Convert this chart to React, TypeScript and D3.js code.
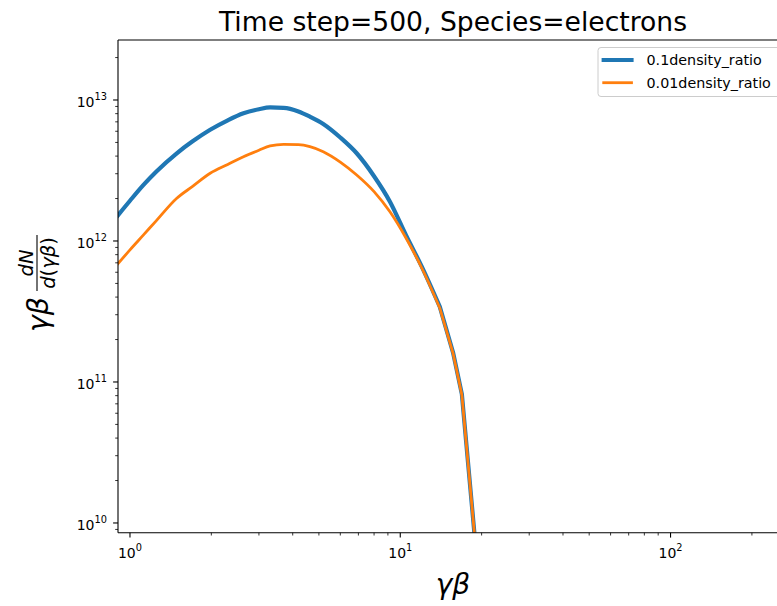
import React from "react";
import * as d3 from "d3";

const gammaBeta = [0.9, 1.0, 1.12, 1.25, 1.49, 1.7, 1.98, 2.3, 2.63, 3.0, 3.3, 3.7, 4.2, 4.63, 5.19, 6.0, 6.9, 8.0, 9.16, 10.5, 12.0, 14.0, 15.7, 16.9, 19.0];
const ratio01 = [1.51e12, 1.93e12, 2.49e12, 3.1e12, 4.19e12, 5.07e12, 6.15e12, 7.18e12, 8.05e12, 8.6e12, 8.85e12, 8.8e12, 8.3e12, 7.62e12, 6.76e12, 5.42e12, 4.19e12, 2.88e12, 1.9e12, 1.1e12, 6.6e11, 3.42e11, 1.6e11, 8.2e10, 6.8e9];
const ratio001 = [6.85e11, 8.65e11, 1.1e12, 1.39e12, 2.01e12, 2.43e12, 3.02e12, 3.49e12, 3.96e12, 4.4e12, 4.72e12, 4.84e12, 4.82e12, 4.67e12, 4.3e12, 3.63e12, 2.94e12, 2.24e12, 1.61e12, 1.05e12, 6.46e11, 3.35e11, 1.58e11, 8.1e10, 6.8e9];
const seriesNames = ["0.1density_ratio", "0.01density_ratio"];
const seriesColors = ["#1f77b4", "#ff7f0e"];
const seriesWidths = [4.2, 2.8];
const xMajorExps = [0, 1, 2];
const yMajorExps = [10, 11, 12, 13];
const title = "Time step=500, Species=electrons";
const smoothUntil = 14.0;

const W = 777, H = 606;
const L = 118, R = 788, T = 40, B = 532.7;
const FONT = "'DejaVu Sans', sans-serif";

export default function App() {
  const x = d3.scaleLog().domain([0.903, 272]).range([L, R]);
  const y = d3.scaleLog().domain([Math.pow(10, 9.931), Math.pow(10, 13.4255)]).range([B, T]);

  const xMinor: number[] = [];
  for (let e = -1; e <= 3; e++) for (let m = 2; m <= 9; m++) {
    const v = m * Math.pow(10, e);
    if (v >= x.domain()[0] && v <= x.domain()[1]) xMinor.push(v);
  }
  const yMinor: number[] = [];
  for (let e = 9; e <= 13; e++) for (let m = 2; m <= 9; m++) {
    const v = m * Math.pow(10, e);
    if (v >= y.domain()[0] && v <= y.domain()[1]) yMinor.push(v);
  }

  const smooth = d3.line<[number, number]>().x(d => x(d[0])).y(d => y(d[1])).curve(d3.curveMonotoneX);
  const straight = d3.line<[number, number]>().x(d => x(d[0])).y(d => y(d[1]));
  const series = [ratio01, ratio001].map(vals => gammaBeta.map((g, i) => [g, vals[i]] as [number, number]));

  const pathFor = (s: [number, number][]) => {
    const head = s.filter(d => d[0] <= smoothUntil);
    const tail = s.filter(d => d[0] >= smoothUntil);
    const a = smooth(head) || "";
    const b = (straight(tail) || "").replace(/^M/, "L");
    return a + b;
  };

  return (
    <svg width={W} height={H} style={{ position: "absolute", left: 0, top: 0, background: "#fff" }} fontFamily={FONT}>
      <defs>
        <clipPath id="plotclip"><rect x={L} y={T} width={R - L} height={B - T} /></clipPath>
      </defs>
      <rect x={0} y={0} width={W} height={H} fill="#fff" />
      <g clipPath="url(#plotclip)">
        {series.map((s, i) => (
          <path key={i} d={pathFor(s)} fill="none" stroke={seriesColors[i]} strokeWidth={seriesWidths[i]} strokeLinejoin="round" strokeLinecap="square" />
        ))}
      </g>
      {/* spines */}
      <line x1={L} x2={L} y1={T} y2={B} stroke="#000" strokeWidth={1.1} />
      <line x1={L} x2={R} y1={B} y2={B} stroke="#000" strokeWidth={1.1} />
      <line x1={L} x2={R} y1={T} y2={T} stroke="#000" strokeWidth={1.1} />
      {/* x ticks */}
      {xMinor.map((v, i) => (
        <line key={"xm" + i} x1={x(v)} x2={x(v)} y1={B} y2={B + 2.8} stroke="#000" strokeWidth={0.8} />
      ))}
      {xMajorExps.map(e => {
        const px = x(Math.pow(10, e));
        return (
          <g key={"xM" + e}>
            <line x1={px} x2={px} y1={B} y2={B + 4.9} stroke="#000" strokeWidth={1.1} />
            <text x={px} y={558} textAnchor="middle" fontSize={14} fill="#000">10<tspan dy={-7} fontSize={9.8}>{e}</tspan></text>
          </g>
        );
      })}
      {/* y ticks */}
      {yMinor.map((v, i) => (
        <line key={"ym" + i} x1={L - 2.8} x2={L} y1={y(v)} y2={y(v)} stroke="#000" strokeWidth={0.8} />
      ))}
      {yMajorExps.map(e => {
        const py = y(Math.pow(10, e));
        return (
          <g key={"yM" + e}>
            <line x1={L - 4.9} x2={L} y1={py} y2={py} stroke="#000" strokeWidth={1.1} />
            <text x={107} y={py + 7.3} textAnchor="end" fontSize={14} fill="#000">10<tspan dy={-7} fontSize={9.8}>{e}</tspan></text>
          </g>
        );
      })}
      {/* title */}
      <text x={(L + R) / 2} y={31} textAnchor="middle" fontSize={26.6} fill="#000">{title}</text>
      {/* x label */}
      <text x={(L + R) / 2} y={594} textAnchor="middle" fontSize={28} fontStyle="italic" fill="#000">γβ</text>
      {/* y label */}
      <g transform="translate(0,282) rotate(-90)" fill="#000">
        <text x={-50} y={48} fontSize={28.5} fontStyle="italic">γβ</text>
        <text x={19} y={32.5} fontSize={19.5} fontStyle="italic" textAnchor="middle">dN</text>
        <line x1={-9} x2={47} y1={37} y2={37} stroke="#000" strokeWidth={1.1} />
        <text x={19} y={54.5} fontSize={19.5} textAnchor="middle">
          <tspan fontStyle="italic">d</tspan><tspan>(</tspan><tspan fontStyle="italic">γβ</tspan><tspan>)</tspan>
        </text>
      </g>
      {/* legend */}
      <rect x={598} y={47.5} width={183} height={49} rx={3} fill="#fff" fillOpacity={0.8} stroke="#cccccc" strokeWidth={1} />
      {seriesNames.map((n, i) => {
        const ly = 60 + i * 22.7;
        return (
          <g key={n}>
            <line x1={603.7} x2={631.5} y1={ly} y2={ly} stroke={seriesColors[i]} strokeWidth={seriesWidths[i]} strokeLinecap="square" />
            <text x={646.5} y={ly + 5.3} fontSize={14.3} fill="#000">{n}</text>
          </g>
        );
      })}
    </svg>
  );
}
